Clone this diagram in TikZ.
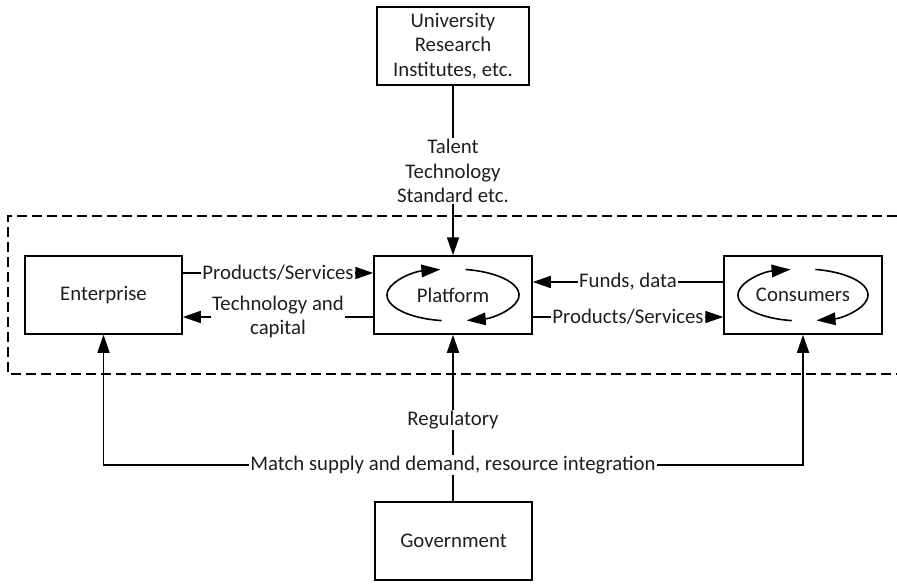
\documentclass[tikz,border=0pt]{standalone}
\usepackage{fontspec}
\setmainfont{Carlito}
\usetikzlibrary{arrows.meta,calc}
\begin{document}
\begin{tikzpicture}[x=1pt,y=-1pt,
  txt/.style={font=\fontsize{20.8}{24.6}\selectfont, text=black!88},
  box/.style={txt, draw, line width=1.5pt, minimum width=157pt, minimum height=78pt,
    inner sep=0pt, align=center},
  lbl/.style={txt, fill=white, inner sep=1.2pt, align=center},
  link/.style={line width=1.6pt},
  arr/.style={link, -{Triangle[length=18pt,width=12pt]}},
  cyclearc/.style={line width=1.6pt, -{Triangle[length=19pt,width=12.5pt]}}]
\useasboundingbox (0,0) rectangle (897,584);

% platform boundary
\draw[line width=1.3pt, dash pattern=on 10pt off 5pt]
  (897,216) -- (8,216) -- (8,374) -- (897,374);

% actors
\node[box, minimum width=152pt] (uni) at (453,46) {University\\Research\\Institutes, etc.};
\node[box] (ent) at (103.5,295) {Enterprise};
\node[box, minimum width=158pt] (plat) at (453,295) {Platform};
\node[box, minimum width=158pt] (cons) at (803,295) {Consumers};
\node[box] (gov) at (453.5,541) {Government};

% cycles inside platform and consumers
\draw[cyclearc] ($(plat.center)+(260:66pt and 26pt)$)
  arc[start angle=260, end angle=101, x radius=66pt, y radius=26pt];
\draw[cyclearc] ($(plat.center)+(79:66pt and 26pt)$)
  arc[start angle=79, end angle=-78, x radius=66pt, y radius=26pt];
\draw[cyclearc] ($(cons.center)+(260:65pt and 26pt)$)
  arc[start angle=260, end angle=101, x radius=65pt, y radius=26pt];
\draw[cyclearc] ($(cons.center)+(79:65pt and 26pt)$)
  arc[start angle=79, end angle=-78, x radius=65pt, y radius=26pt];

% research input
\node[lbl] (tts) at (453,171) {Talent\\Technology\\Standard etc.};
\draw[link] (uni.south -| tts.north) -- (tts.north);
\draw[arr] (tts.south) -- (plat.north);

% enterprise <-> platform
\draw[arr] ([yshift=22pt]ent.east) -- node[lbl]{Products/Services} ([yshift=22pt]plat.west);
\draw[arr] ([yshift=-22pt]plat.west) -- node[lbl]{Technology and\\capital} ([yshift=-22pt]ent.east);

% platform <-> consumers
\draw[arr] ([yshift=13pt]cons.west) -- node[lbl]{Funds, data} ([yshift=13pt]plat.east);
\draw[arr] ([yshift=-22pt]plat.east) -- node[lbl]{Products/Services} ([yshift=-22pt]cons.west);

% government
\node[lbl] (reg) at (453,420) {Regulatory};
\node[lbl] (match) at (453,465) {Match supply and demand, resource integration};
\draw[link] (gov.north -| match.south) -- (match.south);
\draw[link] (match.north) -- (reg.south);
\draw[arr] (reg.north) -- (plat.south);
\draw[arr] (match.west) -| (ent.south);
\draw[arr] (match.east) -| (cons.south);
\end{tikzpicture}
\end{document}
